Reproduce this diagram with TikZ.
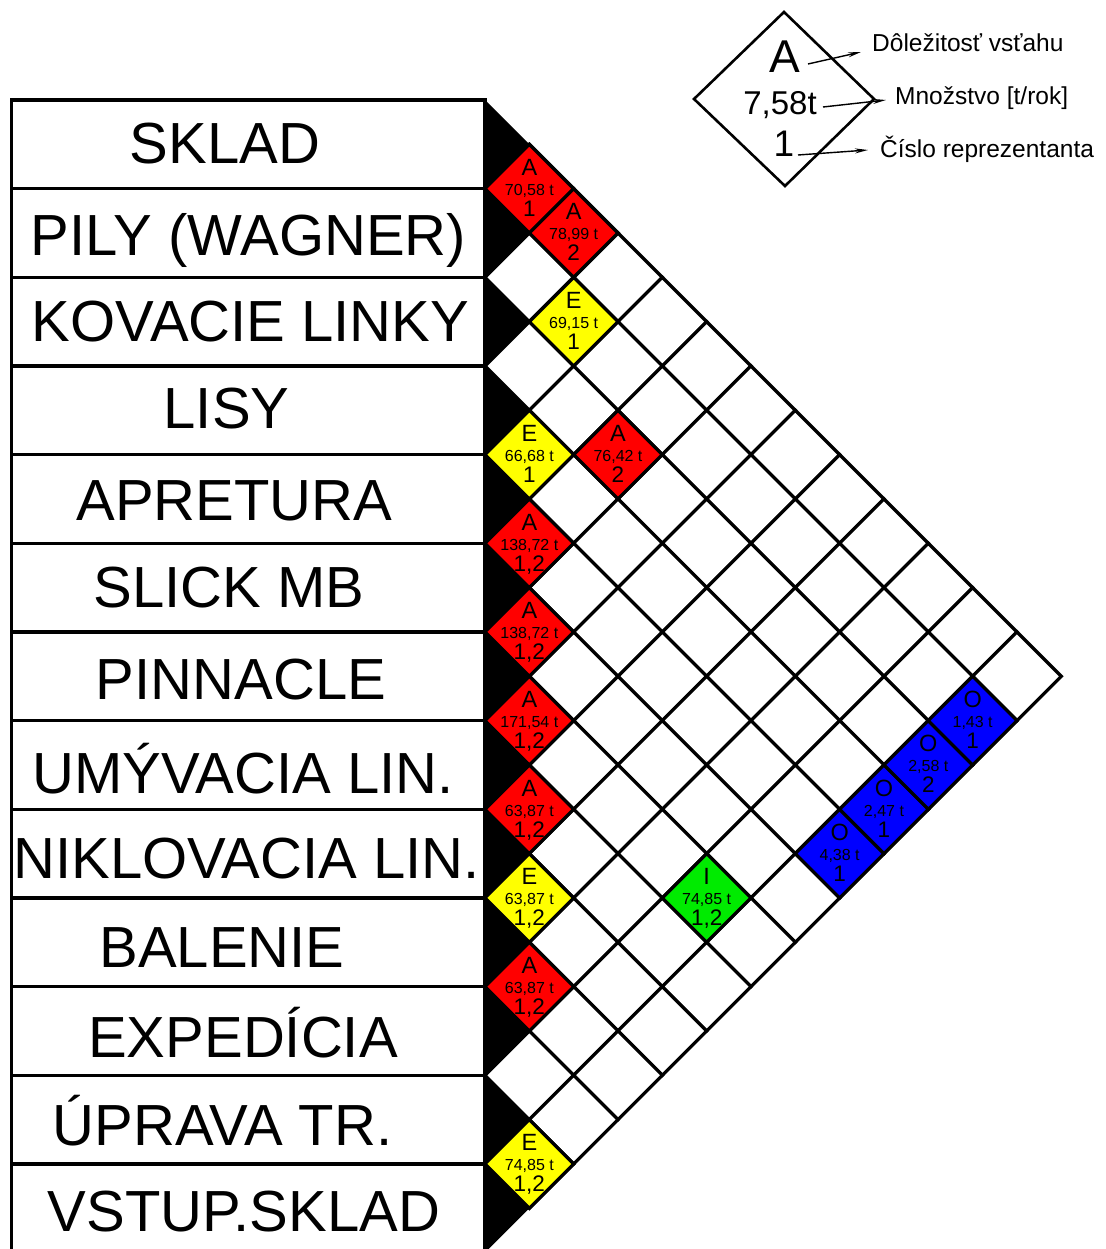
\documentclass[tikz,border=0pt]{standalone}
\usepackage{fontspec}
\setmainfont{Liberation Sans}
\usetikzlibrary{arrows.meta}

\definecolor{relA}{RGB}{255,0,0}
\definecolor{relE}{RGB}{255,255,0}
\definecolor{relI}{RGB}{0,235,0}
\definecolor{relO}{RGB}{0,0,255}

\tikzset{
  cellline/.style={line width=3.2pt, draw=black, line join=miter},
  rowbox/.style={line width=3.2pt, draw=black},
  rowlabel/.style={anchor=base, font=\fontsize{58}{62}\selectfont, inner sep=0pt},
  cellL/.style={anchor=base, font=\fontsize{23.5}{25}\selectfont, inner sep=0pt},
  cellQ/.style={anchor=base, font=\fontsize{16}{18}\selectfont, inner sep=0pt},
  cellN/.style={anchor=base, font=\fontsize{22.5}{24}\selectfont, inner sep=0pt},
  legtext/.style={anchor=base west, font=\fontsize{24.5}{26}\selectfont, inner sep=0pt},
  legarrow/.style={line width=1.4pt, -{Stealth[length=13pt,width=5pt]}},
}

% half diagonal of one cell of the relationship matrix
\def\hd{44.33}

% one coloured relationship cell: rows #1 and #2, fill, class, amount, representative
\newcommand{\relcell}[6]{%
  \pgfmathsetmacro{\rcx}{485+\hd*(#2-#1)}%
  \pgfmathsetmacro{\rcy}{100+\hd*(#1+#2+1)}%
  \filldraw[cellline, fill=#3] ({\rcx-\hd},\rcy) -- (\rcx,{\rcy-\hd}) -- ({\rcx+\hd},\rcy) -- (\rcx,{\rcy+\hd}) -- cycle;
  \node[cellL] (c#1x#2L) at (\rcx,{\rcy-13}) {#4};
  \node[cellQ] (c#1x#2Q) at (\rcx,{\rcy+7}) {#5};
  \node[cellN] (c#1x#2N) at (\rcx,{\rcy+28}) {#6};
}

\begin{document}
\begin{tikzpicture}[x=1pt, y=-1pt]
\useasboundingbox[fill=white] (0,0) rectangle (1105,1249);

% black wedges between the label column and the matrix
\foreach \i in {0,...,12}{
  \fill[black] (485,{100+2*\hd*\i}) -- ({485+\hd},{100+\hd*(2*\i+1)}) -- (485,{100+2*\hd*(\i+1)}) -- cycle;
}

% empty cells of the matrix
\foreach \i in {0,...,11}{
  \pgfmathtruncatemacro{\jst}{\i+1}
  \foreach \j in {\jst,...,12}{
    \pgfmathsetmacro{\ex}{485+\hd*(\j-\i)}
    \pgfmathsetmacro{\ey}{100+\hd*(\i+\j+1)}
    \filldraw[cellline, fill=white] ({\ex-\hd},\ey) -- (\ex,{\ey-\hd}) -- ({\ex+\hd},\ey) -- (\ex,{\ey+\hd}) -- cycle;
  }
}

% relationships
\relcell{0}{1}{relA}{A}{70,58 t}{1}
\relcell{0}{2}{relA}{A}{78,99 t}{2}
\relcell{1}{3}{relE}{E}{69,15 t}{1}
\relcell{3}{4}{relE}{E}{66,68 t}{1}
\relcell{2}{5}{relA}{A}{76,42 t}{2}
\relcell{4}{5}{relA}{A}{138,72 t}{1,2}
\relcell{5}{6}{relA}{A}{138,72 t}{1,2}
\relcell{6}{7}{relA}{A}{171,54 t}{1,2}
\relcell{7}{8}{relA}{A}{63,87 t}{1,2}
\relcell{8}{9}{relE}{E}{63,87 t}{1,2}
\relcell{6}{11}{relI}{I}{74,85 t}{1,2}
\relcell{9}{10}{relA}{A}{63,87 t}{1,2}
\relcell{11}{12}{relE}{E}{74,85 t}{1,2}
\relcell{4}{12}{relO}{O}{4,38 t}{1}
\relcell{3}{12}{relO}{O}{2,47 t}{1}
\relcell{2}{12}{relO}{O}{2,58 t}{2}
\relcell{1}{12}{relO}{O}{1,43 t}{1}

% label column
\foreach \i in {0,...,12}{
  \draw[rowbox] (11.5,{100+2*\hd*\i}) rectangle (485,{100+2*\hd*(\i+1)});
}
\node[rowlabel] (dSklad)  at (225,164)   {SKLAD};
\node[rowlabel] (dPily)   at (248.5,255) {PILY (WAGNER)};
\node[rowlabel] (dKov)    at (250.5,341) {KOVACIE LINKY};
\node[rowlabel] (dLisy)   at (226.5,428) {LISY};
\node[rowlabel] (dApr)    at (234.5,520) {APRETURA};
\node[rowlabel] (dSlick)  at (229,607)   {SLICK MB};
\node[rowlabel] (dPinn)   at (241,699)   {PINNACLE};
\node[rowlabel] (dUmyv)   at (243,793)   {UMÝVACIA LIN.};
\node[rowlabel] (dNikl)   at (246.5,878) {NIKLOVACIA LIN.};
\node[rowlabel] (dBal)    at (222,967)   {BALENIE};
\node[rowlabel] (dExp)    at (243,1057)  {EXPEDÍCIA};
\node[rowlabel] (dUpr)    at (222.5,1145){ÚPRAVA TR.};
\node[rowlabel] (dVstup)  at (244,1231)  {VSTUP.SKLAD};

% legend
\draw[line width=2.6pt, line join=miter] (694,99) -- (784,12) -- (874,99) -- (785,186) -- cycle;
\node[anchor=base, inner sep=0pt, font=\fontsize{46}{48}\selectfont] (lgA) at (785,73) {A};
\node[anchor=base, inner sep=0pt, font=\fontsize{33}{35}\selectfont] (lgQ) at (780,115) {7,58t};
\node[anchor=base, inner sep=0pt, font=\fontsize{37}{39}\selectfont] (lgN) at (784,157) {1};
\node[legtext] (lbImp) at (872,52)  {Dôležitosť vsťahu};
\node[legtext] (lbQty) at (895,105) {Množstvo [t/rok]};
\node[legtext] (lbNum) at (880,158) {Číslo reprezentanta};
\coordinate (aImpS) at (808,64);  \coordinate (aImpE) at (861,52);
\coordinate (aQtyS) at (823,107); \coordinate (aQtyE) at (886,100);
\coordinate (aNumS) at (798,155); \coordinate (aNumE) at (868,150);
\draw[legarrow] (aImpS) -- (aImpE);
\draw[legarrow] (aQtyS) -- (aQtyE);
\draw[legarrow] (aNumS) -- (aNumE);
\end{tikzpicture}
\end{document}
